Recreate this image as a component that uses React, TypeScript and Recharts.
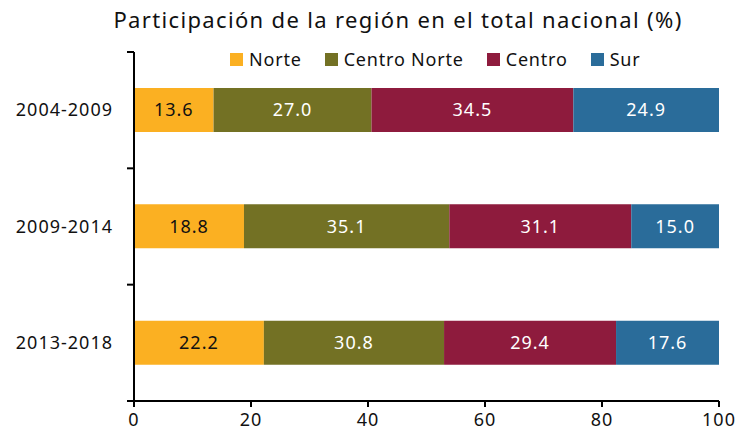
import { Bar, BarChart, LabelList, XAxis, YAxis } from "recharts";

const periods = ["2004-2009", "2009-2014", "2013-2018"];
const norte = [13.6, 18.8, 22.2];
const centroNorte = [27.0, 35.1, 30.8];
const centro = [34.5, 31.1, 29.4];
const sur = [24.9, 15.0, 17.6];
const xTicks = [0, 20, 40, 60, 80, 100];

const series = [
  { key: "norte", name: "Norte", color: "#FBB022", text: "#111" },
  { key: "centroNorte", name: "Centro Norte", color: "#737124", text: "#fff" },
  { key: "centro", name: "Centro", color: "#8E1B3D", text: "#fff" },
  { key: "sur", name: "Sur", color: "#2A6C9A", text: "#fff" },
];

const data = periods.map((p, i) => ({
  period: p,
  norte: norte[i],
  centroNorte: centroNorte[i],
  centro: centro[i],
  sur: sur[i],
}));

const font = "'Noto Sans', sans-serif";
const W = 739;
const H = 438;
const margin = { top: 52, right: 20, bottom: 7, left: 0 };
const yAxisWidth = 134;
const xAxisHeight = 30;
const band = (H - margin.top - margin.bottom - xAxisHeight) / periods.length;

// category label plus tick marks at the band edges (Excel style)
function PeriodTick(props: any) {
  const { x, y, payload, index } = props;
  const axisX = margin.left + yAxisWidth;
  const half = band / 2;
  return (
    <g>
      {index === 0 && <line x1={axisX - 7} x2={axisX} y1={y - half} y2={y - half} stroke="#000" strokeWidth={2} />}
      <line x1={axisX - 7} x2={axisX} y1={y + half} y2={y + half} stroke="#000" strokeWidth={2} />
      <text x={x} y={y} dy={6} textAnchor="end" fontSize={18} fill="#111" fontFamily={font} letterSpacing={1}>
        {payload.value}
      </text>
    </g>
  );
}

export default function App() {
  return (
    <div style={{ position: "absolute", left: 0, top: 0, width: W, height: H, background: "#fff", fontFamily: font }}>
      <div
        style={{
          position: "absolute",
          top: 4,
          left: 92,
          width: 612,
          textAlign: "center",
          fontSize: 22,
          letterSpacing: 1.35,
          color: "#111",
          whiteSpace: "nowrap",
        }}
      >
        Participación de la región en el total nacional (%)
      </div>
      <div
        style={{
          position: "absolute",
          top: 47,
          left: 230,
          display: "flex",
          gap: 23,
          fontSize: 18,
          letterSpacing: 0.8,
          color: "#111",
          zIndex: 2,
          whiteSpace: "nowrap",
        }}
      >
        {series.map((s) => (
          <div key={s.key} style={{ display: "flex", alignItems: "center", gap: 6 }}>
            <span style={{ width: 13, height: 13, background: s.color, display: "inline-block" }} />
            <span>{s.name}</span>
          </div>
        ))}
      </div>
      <BarChart width={W} height={H} data={data} layout="vertical" margin={margin}>
        <XAxis
          type="number"
          domain={[0, 100]}
          ticks={xTicks}
          tick={{ fontSize: 18, fill: "#111", fontFamily: font, letterSpacing: 1 }}
          axisLine={{ stroke: "#000", strokeWidth: 2 }}
          tickLine={{ stroke: "#000", strokeWidth: 2 }}
          tickSize={6}
          tickMargin={6}
          height={xAxisHeight}
        />
        <YAxis
          type="category"
          dataKey="period"
          width={yAxisWidth}
          tickLine={false}
          axisLine={{ stroke: "#000", strokeWidth: 2 }}
          tick={<PeriodTick />}
          tickMargin={15}
        />
        {series.map((s) => (
          <Bar key={s.key} dataKey={s.key} name={s.name} stackId="a" fill={s.color} barSize={44} isAnimationActive={false}>
            <LabelList
              dataKey={s.key}
              position="center"
              formatter={(v: number) => v.toFixed(1)}
              style={{ fill: s.text, fontSize: 18, fontFamily: font, letterSpacing: 1 }}
            />
          </Bar>
        ))}
      </BarChart>
    </div>
  );
}
